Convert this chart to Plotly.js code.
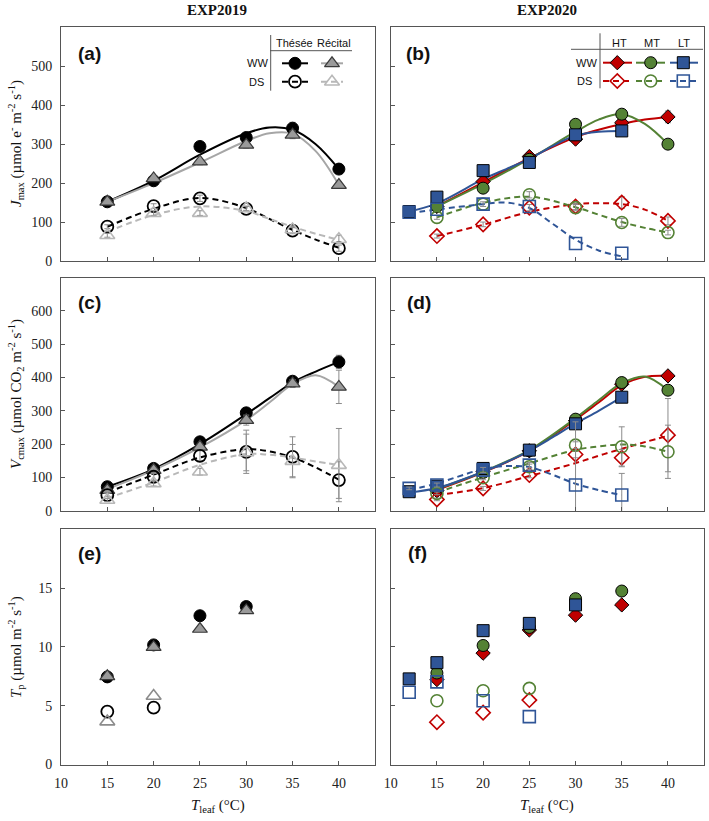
<!DOCTYPE html>
<html><head><meta charset="utf-8">
<script src="https://cdn.plot.ly/plotly-3.0.1.min.js"></script>
<style>html,body{margin:0;padding:0;background:#fff}#chart{width:709px;height:821px}</style>
</head><body><div id="chart"></div>
<script>
// ---------------- DATA ----------------
const T_2019 = [15,20,25,30,35,40];
const T_2020 = [15,20,25,30,35,40];
const T_2020_LT = [12,15,20,25,30,35];
const T_FIT = [15,20,25,30,32.5,35,37.5,40];
const T_FIT_LT = [12,15,20,22.5,25,27.5,30,32.5,35];

// (a) Jmax EXP2019
const jmax_theseeWW  = [152,206,294,317,341,236];
const jmax_recitalWW = [152,212,255,298,324,195];
const jmax_theseeDS  = [88,141,161,134,78,33];
const jmax_recitalDS = [66,123,123,135,81,56];
const fitJ_theseeWW  = [152,206,273,328,343,337,300,236];
const fitJ_recitalWW = [152,200,253,308,328,327,282,195];
const fitJ_theseeDS  = [88,134,162,136,108,80,55,34];
const fitJ_recitalDS = [75,118,140,128,108,88,70,54];
const errJ_theseeWW  = [6,8,10,10,15,12];
const errJ_recitalWW = [5,6,8,8,10,8];
const errJ_theseeDS  = [5,6,8,6,8,8];
const errJ_recitalDS = [5,6,6,6,8,10];

// (b) Jmax EXP2020
const jmax_HT_WW = [140,204,268,313,355,370];
const jmax_MT_WW = [140,187,261,351,377,300];
const jmax_LT_WW = [127,164,232,253,324,334];
const jmax_HT_DS = [64,94,137,140,150,103];
const jmax_MT_DS = [112,146,170,137,99,73];
const jmax_LT_DS = [125,133,146,140,45,20];
const fitJ_HT_WW = [140,202,264,318,337,352,363,370];
const fitJ_MT_WW = [140,198,262,332,363,377,352,300];
const fitJ_LT_WW = [127,148,210,236,262,295,322,332,334];
const fitJ_HT_DS = [64,93,126,146,148,146,132,103];
const fitJ_MT_DS = [112,149,165,138,119,100,85,73];
const fitJ_LT_DS = [123,132,146,150,136,96,55,27,12];
const errJ_HT_WW = [5,6,8,8,10,15];
const errJ_HT_DS = [5,6,8,8,15,10];
const errJ_MT_DS = [5,6,8,8,10,6];

// (c) Vcmax EXP2019
const vcmax_theseeWW  = [72,127,207,294,389,447];
const vcmax_recitalWW = [62,122,192,272,382,372];
const vcmax_theseeDS  = [47,102,165,177,162,92];
const vcmax_recitalDS = [32,82,117,175,149,137];
const fitV_theseeWW  = [72,125,200,290,338,385,418,447];
const fitV_recitalWW = [65,122,190,272,325,380,407,372];
const fitV_theseeDS  = [55,108,160,185,178,160,130,93];
const fitV_recitalDS = [38,85,138,170,168,160,148,137];
const errV_theseeWW  = [6,8,10,12,12,20];
const errV_recitalWW = [5,8,10,15,12,50];
const errV_theseeDS  = [5,10,15,65,60,55];
const errV_recitalDS = [5,8,10,55,50,110];

// (d) Vcmax EXP2020
const vcmax_HT_WW = [60,118,180,270,380,405];
const vcmax_MT_WW = [70,115,180,275,385,362];
const vcmax_LT_WW = [57,74,127,182,261,341];
const vcmax_HT_DS = [34,67,107,169,159,227];
const vcmax_MT_DS = [52,99,132,197,192,177];
const vcmax_LT_DS = [67,77,122,137,77,47];
const fitV_HT_WW = [62,115,180,274,325,377,402,405];
const fitV_MT_WW = [65,117,182,278,332,383,403,362];
const fitV_LT_WW = [55,68,117,146,180,220,262,300,341];
const fitV_HT_DS = [47,68,104,143,165,186,206,225];
const fitV_MT_DS = [55,100,142,183,193,199,193,177];
const fitV_LT_DS = [62,82,125,134,131,108,81,62,47];
const errV_HT_DS = [4,6,8,10,25,110];
const errV_MT_DS = [4,6,8,10,60,80];
const errV_LT_DS = [4,6,8,8,190,65];

// (e) Tp EXP2019
const T_tp_2019_WW = [15,20,25,30];
const T_tp_2019_DS = [15,20];
const tp_theseeWW  = [7.45,10.17,12.65,13.43];
const tp_recitalWW = [7.5,9.98,11.52,13.1];
const tp_theseeDS  = [4.5,4.83];
const tp_recitalDS = [3.65,5.82];

// (f) Tp EXP2020
const T_tp_HM_WW = [15,20,25,30,35];
const T_tp_LT_WW = [12,15,20,25,30];
const T_tp_HM_DS = [15,20,25];
const T_tp_LT_DS = [12,15,20,25];
const tp_HT_WW = [7.22,9.47,11.44,12.7,13.57];
const tp_MT_WW = [7.78,10.12,11.66,14.1,14.75];
const tp_LT_WW = [7.28,8.66,11.38,12.0,13.57];
const tp_HT_DS = [3.6,4.41,5.48];
const tp_MT_DS = [5.42,6.27,6.47];
const tp_LT_DS = [6.15,7.03,5.42,4.07];

const xTicks = [10,15,20,25,30,35,40];
const jTicks = [0,100,200,300,400,500];
const vTicks = [0,100,200,300,400,500,600];
const tpTicks = [0,5,10,15];

// ---------------- STYLE ----------------
const W = 709, H = 821;
const fx = p => p / W, fy = p => 1 - p / H;
const RED = '#c00000', GREEN = '#548235', BLUE = '#2f5597';
const BLK = '#000000', GRAY = '#a6a6a6', LGRAY = '#b8b8b8';
const DASH = '6px,4px';
const DIA = 11;

const traces = [];
function curve(x, y, ax, color, dashed) {
  traces.push({x, y, xaxis: 'x' + ax, yaxis: 'y' + ax, type: 'scatter', mode: 'lines',
    line: {color, width: 2, shape: 'spline', smoothing: 1, dash: dashed ? DASH : 'solid'},
    hoverinfo: 'skip', showlegend: false});
}
function pts(x, y, ax, symbol, color, size, lineColor, lw, err) {
  const t = {x, y, xaxis: 'x' + ax, yaxis: 'y' + ax, type: 'scatter', mode: 'markers',
    marker: {symbol, color, size, line: {color: lineColor, width: lw}},
    hoverinfo: 'skip', showlegend: false, cliponaxis: false};
  if (err) t.error_y = {type: 'data', array: err, visible: true, color: '#8c8c8c', thickness: 1, width: 3};
  traces.push(t);
}
const ax = n => n === 1 ? '' : String(n);

// (a)
curve(T_FIT, fitJ_theseeWW, ax(1), BLK, false);
curve(T_FIT, fitJ_recitalWW, ax(1), GRAY, false);
curve(T_FIT, fitJ_theseeDS, ax(1), BLK, true);
curve(T_FIT, fitJ_recitalDS, ax(1), LGRAY, true);
pts(T_2019, jmax_theseeWW, ax(1), 'circle', BLK, 12, BLK, 1, errJ_theseeWW);
pts(T_2019, jmax_recitalWW, ax(1), 'triangle-up', '#9a9a9a', 13, '#3a3a3a', 1.2, errJ_recitalWW);
pts(T_2019, jmax_theseeDS, ax(1), 'circle-open', BLK, 12, BLK, 1.8, errJ_theseeDS);
pts(T_2019, jmax_recitalDS, ax(1), 'triangle-up-open', LGRAY, 13, LGRAY, 1.6, errJ_recitalDS);

// (b)
curve(T_FIT, fitJ_HT_WW, ax(2), RED, false);
curve(T_FIT, fitJ_MT_WW, ax(2), GREEN, false);
curve(T_FIT_LT, fitJ_LT_WW, ax(2), BLUE, false);
curve(T_FIT, fitJ_HT_DS, ax(2), RED, true);
curve(T_FIT, fitJ_MT_DS, ax(2), GREEN, true);
curve(T_FIT_LT, fitJ_LT_DS, ax(2), BLUE, true);
pts(T_2020, jmax_HT_WW, ax(2), 'diamond', RED, DIA, BLK, 1, errJ_HT_WW);
pts(T_2020, jmax_MT_WW, ax(2), 'circle', GREEN, 12, BLK, 1);
pts(T_2020_LT, jmax_LT_WW, ax(2), 'square', BLUE, 12, BLK, 1);
pts(T_2020, jmax_HT_DS, ax(2), 'diamond-open', RED, DIA, RED, 1.6, errJ_HT_DS);
pts(T_2020, jmax_MT_DS, ax(2), 'circle-open', GREEN, 12, GREEN, 1.6, errJ_MT_DS);
pts(T_2020_LT, jmax_LT_DS, ax(2), 'square-open', BLUE, 12, BLUE, 1.6);

// (c)
curve(T_FIT, fitV_theseeWW, ax(3), BLK, false);
curve(T_FIT, fitV_recitalWW, ax(3), GRAY, false);
curve(T_FIT, fitV_theseeDS, ax(3), BLK, true);
curve(T_FIT, fitV_recitalDS, ax(3), LGRAY, true);
pts(T_2019, vcmax_theseeWW, ax(3), 'circle', BLK, 12, BLK, 1, errV_theseeWW);
pts(T_2019, vcmax_recitalWW, ax(3), 'triangle-up', '#9a9a9a', 13, '#3a3a3a', 1.2, errV_recitalWW);
pts(T_2019, vcmax_theseeDS, ax(3), 'circle-open', BLK, 12, BLK, 1.8, errV_theseeDS);
pts(T_2019, vcmax_recitalDS, ax(3), 'triangle-up-open', LGRAY, 13, LGRAY, 1.6, errV_recitalDS);

// (d)
curve(T_FIT, fitV_HT_WW, ax(4), RED, false);
curve(T_FIT, fitV_MT_WW, ax(4), GREEN, false);
curve(T_FIT_LT, fitV_LT_WW, ax(4), BLUE, false);
curve(T_FIT, fitV_HT_DS, ax(4), RED, true);
curve(T_FIT, fitV_MT_DS, ax(4), GREEN, true);
curve(T_FIT_LT, fitV_LT_DS, ax(4), BLUE, true);
pts(T_2020, vcmax_HT_WW, ax(4), 'diamond', RED, DIA, BLK, 1);
pts(T_2020, vcmax_MT_WW, ax(4), 'circle', GREEN, 12, BLK, 1);
pts(T_2020_LT, vcmax_LT_WW, ax(4), 'square', BLUE, 12, BLK, 1);
pts(T_2020, vcmax_HT_DS, ax(4), 'diamond-open', RED, DIA, RED, 1.6, errV_HT_DS);
pts(T_2020, vcmax_MT_DS, ax(4), 'circle-open', GREEN, 12, GREEN, 1.6, errV_MT_DS);
pts(T_2020_LT, vcmax_LT_DS, ax(4), 'square-open', BLUE, 12, BLUE, 1.6, errV_LT_DS);

// (e)
pts(T_tp_2019_WW, tp_theseeWW, ax(5), 'circle', BLK, 12, BLK, 1);
pts(T_tp_2019_WW, tp_recitalWW, ax(5), 'triangle-up', '#9a9a9a', 13, '#3a3a3a', 1.2);
pts(T_tp_2019_DS, tp_theseeDS, ax(5), 'circle-open', BLK, 12, BLK, 1.8);
pts(T_tp_2019_DS, tp_recitalDS, ax(5), 'triangle-up-open', '#8c8c8c', 13, '#8c8c8c', 1.6);

// (f)
pts(T_tp_HM_WW, tp_HT_WW, ax(6), 'diamond', RED, DIA, BLK, 1);
pts(T_tp_HM_WW, tp_MT_WW, ax(6), 'circle', GREEN, 12, BLK, 1);
pts(T_tp_LT_WW, tp_LT_WW, ax(6), 'square', BLUE, 12, BLK, 1);
pts(T_tp_HM_DS, tp_HT_DS, ax(6), 'diamond-open', RED, DIA, RED, 1.6);
pts(T_tp_HM_DS, tp_MT_DS, ax(6), 'circle-open', GREEN, 12, GREEN, 1.6);
pts(T_tp_LT_DS, tp_LT_DS, ax(6), 'square-open', BLUE, 12, BLUE, 1.6);

// legend samples on an overlay pixel axis
function legendSample(x1, xm, x2, y, color, dashed, symbol, mcolor, size, lcolor, lw) {
  traces.push({x: [x1, x2], y: [y, y], xaxis: 'x7', yaxis: 'y7', type: 'scatter', mode: 'lines',
    line: {color, width: 2, dash: dashed ? DASH : 'solid'}, hoverinfo: 'skip', showlegend: false});
  traces.push({x: [xm], y: [y], xaxis: 'x7', yaxis: 'y7', type: 'scatter', mode: 'markers',
    marker: {symbol, color: mcolor, size, line: {color: lcolor, width: lw}}, hoverinfo: 'skip', showlegend: false});
}
legendSample(282, 295, 308, 63.3, BLK, false, 'circle', BLK, 12, BLK, 1);
legendSample(321, 332, 343, 63.3, GRAY, false, 'triangle-up', '#9a9a9a', 13, '#3a3a3a', 1.2);
legendSample(282, 295, 308, 81.7, BLK, true, 'circle-open', BLK, 12, BLK, 1.8);
legendSample(321, 332, 343, 81.7, LGRAY, true, 'triangle-up-open', LGRAY, 13, LGRAY, 1.6);
legendSample(603, 617.3, 632, 62.7, RED, false, 'diamond', RED, DIA, BLK, 1);
legendSample(636, 650.7, 665, 62.7, GREEN, false, 'circle', GREEN, 12, BLK, 1);
legendSample(670, 683.3, 698, 62.7, BLUE, false, 'square', BLUE, 12, BLK, 1);
legendSample(603, 617.3, 632, 81, RED, true, 'diamond-open', RED, DIA, RED, 1.6);
legendSample(636, 650.7, 665, 81, GREEN, true, 'circle-open', GREEN, 12, GREEN, 1.6);
legendSample(670, 683.3, 698, 81, BLUE, true, 'square-open', BLUE, 12, BLUE, 1.6);

// ---------------- LAYOUT ----------------
const COLL = [fx(61), fx(375)], COLR = [fx(390.7), fx(704)];
const ROW1 = [fy(261), fy(27.3)], ROW2 = [fy(510.7), fy(277.7)], ROW3 = [fy(764.5), fy(529.3)];
const tickFont = {family: 'Liberation Serif, Times New Roman, serif', size: 14, color: '#222'};
function xa(domain, anchor, labels) {
  return {domain, anchor, range: [10, 43.9], tickvals: xTicks, showticklabels: labels,
    ticks: 'inside', ticklen: 4, tickcolor: '#555', showline: true, mirror: true, linecolor: '#555', linewidth: 1,
    showgrid: false, zeroline: false, tickfont: tickFont, ticklabelstandoff: 6, fixedrange: true};
}
function ya(domain, anchor, range, tickvals, labels) {
  return {domain, anchor, range, tickvals, showticklabels: labels,
    ticks: 'inside', ticklen: 4, tickcolor: '#555', showline: true, mirror: true, linecolor: '#555', linewidth: 1,
    showgrid: false, zeroline: false, tickfont: tickFont, ticklabelstandoff: 5, fixedrange: true};
}
const sans = 'Liberation Sans, Arial, sans-serif';
const serif = 'Liberation Serif, Times New Roman, serif';
const ann = [];
function txt(x, y, text, size, family, extra) {
  ann.push(Object.assign({xref: 'paper', yref: 'paper', x: fx(x), y: fy(y), text, showarrow: false,
    xanchor: 'center', yanchor: 'middle', font: {family, size, color: '#111'}}, extra || {}));
}
txt(217, 10, '<b>EXP2019</b>', 15, serif);
txt(547, 10, '<b>EXP2020</b>', 15, serif);
txt(89, 53, '<b>(a)</b>', 19, sans);
txt(418, 53, '<b>(b)</b>', 19, sans);
txt(89, 302, '<b>(c)</b>', 19, sans);
txt(419, 302, '<b>(d)</b>', 19, sans);
txt(89, 553, '<b>(e)</b>', 19, sans);
txt(417, 552, '<b>(f)</b>', 19, sans);
txt(16, 144, '<i>J</i><sub>max</sub> (µmol e<sup>-</sup> m<sup>-2</sup> s<sup>-1</sup>)', 15, serif, {textangle: -90});
txt(16, 394, '<i>V</i><sub>cmax</sub> (µmol CO<sub>2</sub> m<sup>-2</sup> s<sup>-1</sup>)', 15, serif, {textangle: -90});
txt(16, 647, '<i>T</i><sub>p</sub> (µmol m<sup>-2</sup> s<sup>-1</sup>)', 15, serif, {textangle: -90});
txt(218, 806, '<i>T</i><sub>leaf</sub> (°C)', 15, serif);
txt(547, 806, '<i>T</i><sub>leaf</sub> (°C)', 15, serif);
// legend texts
txt(294, 42.7, 'Thésée', 11, sans);
txt(334, 42.7, 'Récital', 11, sans);
txt(257, 63.3, 'WW', 11, sans);
txt(256, 81.7, 'DS', 11, sans);
txt(619, 43.3, 'HT', 11, sans);
txt(652, 43.3, 'MT', 11, sans);
txt(684, 43.3, 'LT', 11, sans);
txt(586, 63, 'WW', 11, sans);
txt(584, 81.3, 'DS', 11, sans);

const ln = (x0, y0, x1, y1) => ({type: 'line', xref: 'paper', yref: 'paper', x0: fx(x0), y0: fy(y0), x1: fx(x1), y1: fy(y1),
  line: {color: '#555', width: 1}});
const shapes = [ln(270.7, 35, 270.7, 90.7), ln(270, 50.7, 352, 50.7), ln(600, 33.3, 600, 88.3), ln(571, 49.3, 703, 49.3)];

const layout = {
  width: W, height: H, margin: {l: 0, r: 0, t: 0, b: 0},
  paper_bgcolor: '#fff', plot_bgcolor: 'rgba(0,0,0,0)', showlegend: false, hovermode: false,
  xaxis: xa(COLL, 'y', false), yaxis: ya(ROW1, 'x', [0, 600], jTicks, true),
  xaxis2: xa(COLR, 'y2', false), yaxis2: ya(ROW1, 'x2', [0, 600], jTicks, false),
  xaxis3: xa(COLL, 'y3', false), yaxis3: ya(ROW2, 'x3', [0, 700], vTicks, true),
  xaxis4: xa(COLR, 'y4', false), yaxis4: ya(ROW2, 'x4', [0, 700], vTicks, false),
  xaxis5: xa(COLL, 'y5', true), yaxis5: ya(ROW3, 'x5', [0, 20], tpTicks, true),
  xaxis6: xa(COLR, 'y6', true), yaxis6: ya(ROW3, 'x6', [0, 20], tpTicks, false),
  xaxis7: {domain: [0, 1], anchor: 'y7', range: [0, W], visible: false, fixedrange: true},
  yaxis7: {domain: [0, 1], anchor: 'x7', range: [H, 0], visible: false, fixedrange: true},
  annotations: ann, shapes
};
Plotly.newPlot('chart', traces, layout, {displayModeBar: false, staticPlot: true});
</script></body></html>
